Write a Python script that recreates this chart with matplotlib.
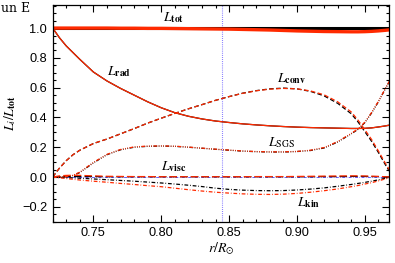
import numpy as np
import matplotlib
matplotlib.use("Agg")
import matplotlib.pyplot as plt
from matplotlib.ticker import MultipleLocator

# radius grid (r / R_sun) and fractional luminosities
r = [0.720, 0.725, 0.730, 0.735, 0.740, 0.750, 0.760, 0.770, 0.780, 0.790,
     0.800, 0.810, 0.820, 0.830, 0.840, 0.850, 0.860, 0.870, 0.880, 0.890,
     0.900, 0.910, 0.920, 0.930, 0.940, 0.945, 0.950, 0.955, 0.960, 0.965, 0.968]

tot_k = [1.003] * 31
tot_r = [1.000, 1.000, 1.000, 1.000, 1.000, 1.000, 1.000, 0.999, 0.999, 0.998,
         0.998, 0.997, 0.996, 0.995, 0.994, 0.993, 0.991, 0.989, 0.987, 0.984,
         0.981, 0.979, 0.977, 0.976, 0.975, 0.975, 0.976, 0.978, 0.981, 0.985, 0.988]

rad_k = [1.000, 0.935, 0.880, 0.835, 0.790, 0.705, 0.645, 0.595, 0.550, 0.505,
         0.465, 0.432, 0.408, 0.390, 0.376, 0.366, 0.357, 0.350, 0.344, 0.339,
         0.335, 0.332, 0.330, 0.328, 0.326, 0.326, 0.327, 0.330, 0.336, 0.343, 0.348]
rad_r = rad_k

conv_k = [0.000, 0.060, 0.110, 0.150, 0.180, 0.225, 0.255, 0.290, 0.325, 0.362,
          0.395, 0.427, 0.458, 0.486, 0.515, 0.540, 0.563, 0.580, 0.592, 0.597,
          0.592, 0.575, 0.545, 0.495, 0.425, 0.370, 0.305, 0.240, 0.165, 0.085, 0.040]
conv_r = [0.000, 0.060, 0.110, 0.150, 0.180, 0.225, 0.255, 0.290, 0.325, 0.362,
          0.395, 0.427, 0.458, 0.486, 0.515, 0.540, 0.562, 0.579, 0.590, 0.595,
          0.592, 0.578, 0.552, 0.505, 0.437, 0.382, 0.318, 0.252, 0.175, 0.095, 0.050]

sgs_k = [0.000, 0.000, 0.002, 0.010, 0.030, 0.095, 0.150, 0.183, 0.200, 0.206,
         0.208, 0.206, 0.200, 0.193, 0.186, 0.180, 0.174, 0.170, 0.168, 0.168,
         0.171, 0.178, 0.195, 0.235, 0.290, 0.320, 0.365, 0.430, 0.505, 0.590, 0.640]
sgs_r = [0.000, 0.000, 0.003, 0.012, 0.033, 0.098, 0.152, 0.185, 0.202, 0.208,
         0.209, 0.207, 0.201, 0.194, 0.187, 0.181, 0.175, 0.171, 0.169, 0.169,
         0.172, 0.180, 0.198, 0.238, 0.293, 0.323, 0.368, 0.433, 0.508, 0.592, 0.642]

visc_k = [0.000, 0.002, 0.003, 0.003, 0.003, 0.003, 0.002, 0.002, 0.002, 0.002,
          0.002, 0.002, 0.002, 0.002, 0.002, 0.002, 0.002, 0.002, 0.002, 0.002,
          0.002, 0.002, 0.003, 0.003, 0.004, 0.004, 0.004, 0.003, 0.003, 0.002, 0.001]
visc_r = [0.000, 0.008, 0.011, 0.012, 0.011, 0.008, 0.005, 0.004, 0.003, 0.003,
          0.002, 0.002, 0.002, 0.002, 0.002, 0.002, 0.002, 0.003, 0.003, 0.003,
          0.004, 0.005, 0.006, 0.007, 0.008, 0.008, 0.007, 0.006, 0.004, 0.002, 0.001]

kin_k = [0.000, -0.002, -0.004, -0.006, -0.008, -0.013, -0.018, -0.023, -0.028, -0.034,
         -0.040, -0.047, -0.055, -0.064, -0.075, -0.083, -0.088, -0.091, -0.092, -0.091,
         -0.087, -0.081, -0.073, -0.062, -0.050, -0.043, -0.036, -0.028, -0.019, -0.008, -0.002]
kin_r = [0.000, -0.005, -0.010, -0.015, -0.020, -0.028, -0.035, -0.043, -0.050, -0.058,
         -0.065, -0.075, -0.085, -0.094, -0.102, -0.108, -0.113, -0.116, -0.117, -0.115,
         -0.110, -0.102, -0.092, -0.080, -0.065, -0.057, -0.047, -0.038, -0.026, -0.013, -0.005]

R_VLINE = 0.845
RED = "#ff2a00"; BLUE = "#6a5cff"

plt.rcParams.update({"font.family": "Liberation Sans", "mathtext.fontset": "stix",
                     "font.size": 9.2})

fig = plt.figure(figsize=(3.95, 2.63), dpi=100)
ax = fig.add_axes([0.1334, 0.157, 0.852, 0.824])

# reference lines
ax.axvline(R_VLINE, color=BLUE, lw=0.8, ls=(0, (0.7, 1.2)))
ax.axhline(0.0, color=BLUE, lw=0.7, ls=(0, (3, 1.5, 0.6, 1.5)))
ax.axhline(1.0, color=BLUE, lw=0.6, ls=(0, (0.7, 1.2)), alpha=0.6)

DASH = (0, (3.6, 2.0))
SGS = (0, (3.0, 1.2, 0.6, 1.2, 0.6, 1.2, 0.6, 1.2))
KIN = (0, (3.0, 1.5, 0.6, 1.5))
VISC = (0, (6.0, 2.5))

for col, tot, rad, conv, sgs, visc, kin, lw_tot in [
        ("black", tot_k, rad_k, conv_k, sgs_k, visc_k, kin_k, 2.2),
        (RED, tot_r, rad_r, conv_r, sgs_r, visc_r, kin_r, 2.4)]:
    ax.plot(r, tot, color=col, lw=lw_tot)
    ax.plot(r, rad, color=col, lw=0.9)
    ax.plot(r, conv, color=col, lw=0.9, ls=DASH)
    ax.plot(r, sgs, color=col, lw=0.9, ls=SGS)
    ax.plot(r, visc, color=col, lw=0.9, ls=VISC)
    ax.plot(r, kin, color=col, lw=0.9, ls=KIN)

ax.set_xlim(0.72, 0.968)
ax.set_ylim(-0.3, 1.155)
ax.xaxis.set_major_locator(MultipleLocator(0.05))
ax.xaxis.set_minor_locator(MultipleLocator(0.01))
ax.yaxis.set_major_locator(MultipleLocator(0.2))
ax.yaxis.set_minor_locator(MultipleLocator(0.05))
ax.tick_params(which="both", direction="in", top=True, right=True, width=0.8)
ax.tick_params(which="major", length=5, pad=4)
ax.tick_params(which="minor", length=2.5)
ax.xaxis.set_major_formatter(plt.FuncFormatter(lambda v, p: f"{v:.2f}"))
ax.yaxis.set_major_formatter(plt.FuncFormatter(lambda v, p: f"{v:.1f}".replace("-", "\u2212")))
for s in ax.spines.values():
    s.set_linewidth(0.9)

ax.set_xlabel(r"$r/R_{\odot}$", fontsize=10, labelpad=1)
ax.set_ylabel(r"$L_i/L_{\mathbf{tot}}$", fontsize=10, labelpad=3)

lab = dict(fontsize=10, ha="center", va="center")
ax.text(0.809, 1.073, r"$L_{\mathbf{tot}}$", **lab)
ax.text(0.7686, 0.709, r"$L_{\mathbf{rad}}$", **lab)
ax.text(0.896, 0.662, r"$L_{\mathbf{conv}}$", **lab)
ax.text(0.889, 0.231, r"$L_{\mathrm{SGS}}$", **lab)
ax.text(0.809, 0.072, r"$L_{\mathbf{visc}}$", **lab)
ax.text(0.9086, -0.174, r"$L_{\mathbf{kin}}$", **lab)

# run name as visible in the (cropped) original
fig.text(1 / 395, 1 - 9 / 263, "un E", ha="left", va="center",
         fontsize=9, family="DejaVu Serif")

fig.savefig("out.png", dpi=100)
